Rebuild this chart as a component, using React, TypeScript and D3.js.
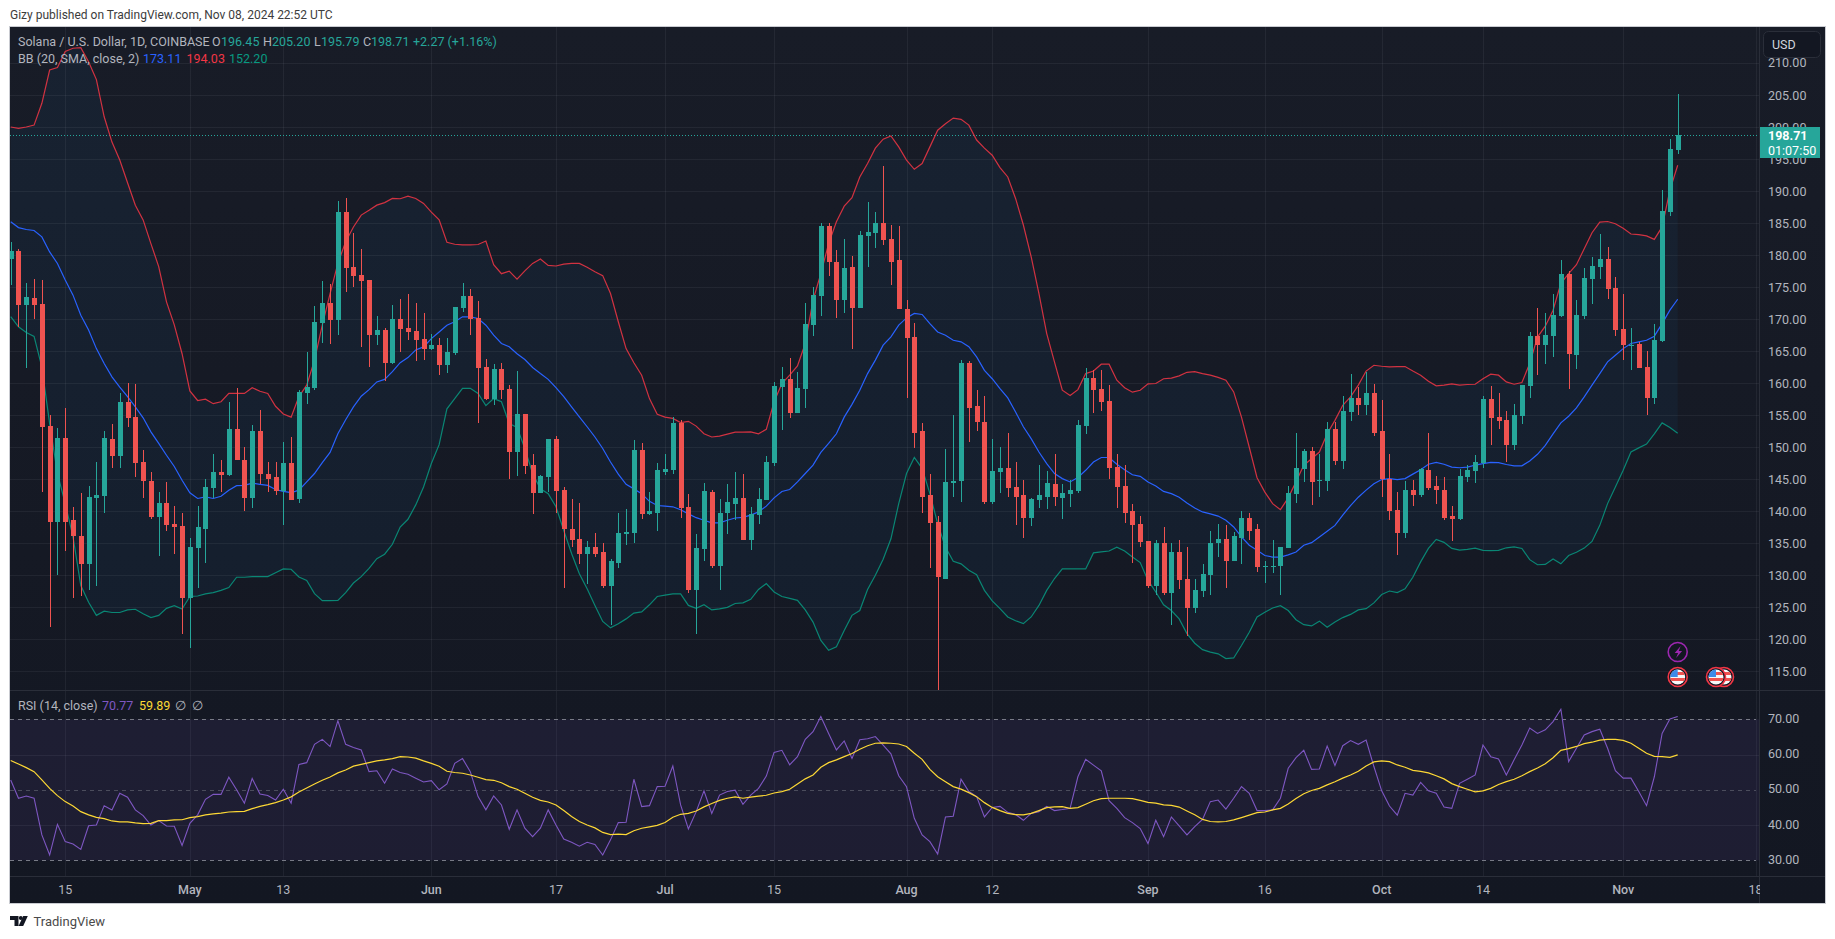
import React from "react";
import * as d3 from "d3";

// daily candles, Apr 8 2024 to Nov 8 2024
const opens = [
  179.4,180.6,172.2,173.3,172.3,153.3,138.4,151.4,138.6,136.2,
  131.8,142,142.4,151.3,148.6,157,154.7,147.7,144.8,139.1,
  141.25,138,137.7,126.4,134.2,137.3,143.6,146.1,145.6,152.8,
  148,142,152.5,145.9,145.3,143.1,147.5,141.9,158.4,159.2,
  169.4,172.5,169.8,186.7,178.1,176.9,176.1,167.5,168.3,163.1,
  170,168.6,168.1,166.9,165.3,165.9,162.8,164.7,171.7,173.6,
  170.2,162.5,157.5,162.2,159.1,149.2,155.2,147.2,142.8,145.3,
  151.25,143.3,137.3,135.6,133.3,134.5,133.6,128.4,132,136.4,
  136.6,149.5,139.5,139.8,146.2,146.4,153.75,140.6,127.7,134.1,
  143,131.4,139.7,141.2,142,135.5,139.4,141.7,147.5,159.4,
  160.6,155.3,159.05,169.05,173.6,184.5,179,173,178.1,171.7,
  183,183.4,185,182.5,179.2,171.6,167.2,152.5,142.5,138.3,
  129.5,144.4,144.7,163.1,156.4,154,141.4,146.1,146.7,143.75,
  142.5,138.9,141.7,142.2,144.2,142,142.65,143.1,153.3,160.8,
  159.1,157.2,146.9,143.9,140,138,135.3,128.3,135,127.3,
  133.6,129.4,124.84,127.5,130,135,135.6,132.2,135.9,139,
  137.2,131.4,131.45,131.4,134.2,142.65,146.55,149.4,144.7,144.7,
  152.8,147.8,155.5,157.65,156.6,158.4,152.5,145,140.15,136.6,
  143.3,142.5,146.4,143.9,143.4,139.2,138.75,145.3,146.25,147.5,
  157.5,154.7,154.2,150.3,154.84,159.5,167.34,165.94,167.34,170.46,
  177,164.4,170.46,176.25,178.1,179.4,174.84,168.4,165.9,166.1,
  162.5,157.65,166.56,186.7,196.45,
];
const highs = [
  182,180.9,175.6,176.3,176.1,155,153,156.2,140.6,142.8,
  143.9,147.7,152.5,153.6,158.4,160,159.8,149.5,146.1,143,
  144.5,140.9,139.7,135.8,140.9,145,149,148,157,159.2,
  150,153.4,155.8,147.7,147.7,150.8,151.6,158.9,164.8,172,
  176,175.5,188.4,188.9,183.4,180.9,176.1,170.5,168.6,172.2,
  173.1,173.9,172.5,171,167.7,167.1,167.1,171.9,175.6,174.7,
  172.8,163.75,163,163.1,159.7,161.9,155.2,148.9,145.6,151.25,
  151.7,143.75,141.9,141.25,135.3,136.6,135,132.5,139.8,140.3,
  151.1,150.6,143,147.5,149,154.8,154.2,142.7,136.4,144.4,
  143.4,141.9,144.2,146.2,145.9,140.6,143.6,148.6,160.2,162.6,
  163.9,161.7,172.6,175,185,185,180.8,182.5,179.8,183.75,
  188.3,186.7,193.9,184.7,184.5,173,169.4,153.75,145.9,139.2,
  149.7,155,163.7,163.5,158.9,158,151.25,150,152.2,147.65,
  144.84,142,147.2,146.25,148.9,144.2,144.84,154.2,162.3,162,
  162,159.7,148.9,147.3,141.1,139.2,135.3,135.5,137.5,135,
  135.5,134.4,129.5,131.7,137,138,137.8,136.7,140,139.8,
  138,132.3,135.5,134.4,144,152.3,149.8,150,149,153.9,
  153.9,158,161.4,159.4,161.7,159.8,157.3,149,143,144.7,
  144.84,146.7,152.3,145.5,145.3,140.8,146.55,147.3,148.75,158,
  159.5,158.4,155.6,156.7,159.7,167.96,171.7,170.9,174,179.2,
  177.5,173,178,179.7,183.3,181.25,176.6,173.9,168.6,166.4,
  165,169.3,190.2,198.1,205.2,
];
const lows = [
  175.3,168.8,162.4,170.1,143,121.9,130,133.75,126.5,126.7,
  127.7,128.4,139.7,146.7,146.7,153.1,145.3,142,138.75,133,
  137,133.3,120.9,118.6,128.1,132,142,143,145.5,148,
  140,140.5,144.2,143,142.5,137.8,141.7,141.25,156.7,159,
  166.2,166.1,167.6,174.2,175,165.7,162.5,165.9,160.3,163,
  164.9,166.7,163.5,163.6,165.2,161.3,161.6,164.4,171.1,167.6,
  153.75,157.3,156.6,157.5,145,145.5,145.9,139.5,142.8,143,
  139.7,128,134.4,131.7,128.6,132.8,128,122.2,131.1,134.7,
  135,138.75,139.4,136.9,145.6,145.9,138.9,127.2,120.9,132.3,
  131.1,127.7,136.4,138.6,135.5,133.9,138,141.7,147,152.65,
  154.5,155.3,156.1,167.3,170.5,176.7,170.15,170.9,165.3,171.7,
  178.1,181.1,181.6,175.3,171.6,157.65,149.85,139.7,131.1,112,
  129.4,142.3,141.4,150.8,152.5,141.2,141.2,142.8,142.3,137.8,
  135.9,137.65,140.5,140.3,140.9,138.75,140.6,142.8,152,155.3,
  155.6,145,140.5,138.1,132,134.5,128,127,126.9,122.3,
  127.8,120.6,124.05,126.6,127,132.8,128.1,132.2,131.7,135.5,
  130.5,128.75,130.3,127,134.2,141.25,144.5,141,142.2,143.1,
  147.2,146.6,154.05,155,155,151.7,142.2,138.6,133.1,135.9,
  140.9,142.3,143.4,141.1,138.6,135.3,138.6,144.5,144.4,146.7,
  150.3,152.8,147.65,149.5,153.6,157.65,161.25,163,164.06,170.3,
  159.06,162.2,170,172.3,176.25,173.1,167.3,163.6,162,162.3,
  155,156.7,166.4,186.1,195.79,
];
const closes = [
  180.6,172.2,173.4,172.2,153.2,138.3,151.4,138.4,136.1,131.8,
  142.2,142.5,151.4,148.6,157,154.5,147.5,144.7,139.1,141.25,
  137.8,137.5,126.4,134.4,137.5,143.75,146.1,145.6,152.8,148,
  142,152.5,145.8,145.1,143.1,147.5,141.7,158.6,159.4,169.6,
  172.5,169.8,186.7,178,176.7,175.9,167.5,168.3,163.1,170,
  168.4,168,166.7,165.3,165.9,162.8,164.8,171.9,173.6,170,
  162.3,157.5,162.2,158.9,149.2,155.2,147,142.8,145.5,151.25,
  143.1,137.2,135.5,133.3,134.5,133.4,128.4,132.2,136.6,136.7,
  149.5,139.5,140,146.4,146.6,153.75,140.5,127.7,134.2,143.1,
  131.4,139.7,141.4,142,135.5,139.5,141.9,147.65,159.5,160.6,
  155.3,159.2,169.2,173.75,184.5,178.9,173,178,171.7,183.1,
  183.6,185,182.3,179,171.6,167,152.3,142.3,138.1,129.7,
  144.5,144.7,163.1,156.1,153.9,141.4,146.25,146.7,143.6,142.3,
  138.9,141.9,142.5,144.4,142.2,142.8,143.3,153.4,160.8,158.9,
  157,146.7,143.75,139.8,137.8,135.15,128.3,135,127.3,133.6,
  129.2,124.84,127.65,130.15,135,135.6,132.2,136.1,139,137,
  131.25,131.5,131.5,134.4,142.8,146.7,149.4,144.5,144.85,152.8,
  147.8,155.6,157.65,156.6,158.4,152.3,145,140,136.6,143.3,
  142.5,146.55,143.6,143.3,139,138.75,145.5,146.4,147.65,157.5,
  154.5,154.05,150.3,155,159.7,167.34,165.94,167.5,170.6,177,
  164.5,170.6,176.4,178.3,179.4,174.7,168.3,165.94,166,162.34,
  157.65,166.7,186.87,196.56,198.71,
];

// bollinger bands
const bbUpper = [
  200,199.8,200,200.3,203.7,208.9,209.3,211.8,212.3,212.4,
  210.2,207.4,201.6,197.65,194.84,191.3,187.8,185.5,181.8,178.2,
  172.7,169.1,164.6,158.8,157.3,157.5,156.8,157.1,158.4,158.4,
  158.4,159.3,158.75,158.4,156.4,155.2,154.7,157.9,159.7,163.6,
  169.06,174,178.7,182.1,184.4,186.25,187,187.8,188.2,188.85,
  188.8,189.2,188.85,188.07,186.7,185.5,182,181.7,181.6,181.6,
  181.66,182.2,178.5,177.1,177.5,176.25,177.55,178.7,179.4,178.4,
  178.3,178.6,178.7,178.7,178.1,177.4,176.8,174,169.6,165.4,
  163.2,161.25,157.6,155.15,154.7,154.5,153.85,154.05,153.3,152.1,
  151.6,151.75,152.05,152.35,152.35,152.4,152.1,152.8,157.1,159.95,
  161.25,162.7,166.2,172.97,177.1,181.8,185.2,187.65,188.96,192.2,
  194.3,196.7,198.1,198.6,196.9,194.84,193.4,194.3,196.9,199.5,
  200.5,201.4,201.2,200.3,197.97,196.7,195.6,193.65,192.2,188.85,
  184.7,179.75,174,167.75,163.3,158.9,158.07,159,161.5,161.9,
  162.97,162.97,160.46,159.3,158.6,158.9,159.9,159.95,160.7,160.8,
  161.15,161.7,161.8,161.5,161.25,160.9,160.46,158.64,154.7,150,
  145.25,143,141.2,140.25,142.1,144.6,147.2,148.2,149.25,152.1,
  154.2,156.55,157.86,159.7,161.9,162.8,162.65,162.55,162.6,162.6,
  161.9,161.25,160.3,159.6,159.7,159.9,159.7,159.8,159.84,160.7,
  161.4,161.25,160.2,159.84,160.1,163.07,167.2,168.9,171.4,175.6,
  177.1,178.5,181,183.5,185.15,185.25,184.9,184.2,183.3,183.2,
  183,182.45,184.4,190.15,194.03,
];
const bbBasis = [
  185.2,184.3,184,183.85,182.85,180.5,178.7,176.1,173.75,170.6,
  168.3,165.4,163.07,161,159.4,157.9,156.3,154.6,152.4,150.6,
  148.75,147,144.84,142.9,142,142.25,142,142.35,143.3,144,
  144.05,144.4,144.2,144.05,143.4,143.1,142.9,143.3,144.6,145.9,
  147.6,149.2,152.1,154.3,156.3,157.97,159,160.2,160.6,161.8,
  163.2,164,165.2,165.67,166.97,168,169.06,169.6,170.36,170.36,
  170.1,169.06,167.5,166.2,165.7,164.6,163.7,162.45,161.5,160.6,
  159.3,157.9,156.3,154.75,153.2,151.6,149.8,147.7,145.8,144.2,
  143.5,142.75,141.55,140.9,140.8,140.7,140.25,139.6,139,138.6,
  138.2,138.2,138.6,138.95,139.05,139.4,139.9,140.8,142.1,143.1,
  143.4,144.6,145.9,147.2,149.2,150.6,152.1,154.7,156.7,158.9,
  161.5,163.6,165.94,167.24,169.06,170.2,170.9,170.73,169.3,168,
  167.5,166.7,166.46,165.7,164.1,162,160.7,159.16,157.7,155.5,
  153.2,151.35,149.25,147.45,145.9,145.1,144.58,145.26,146.4,147.7,
  148.4,148.4,147.34,146.5,145.7,145.46,144.58,143.95,143.1,142.75,
  142.2,141.3,140.5,139.9,139.6,139.25,138.6,137.55,136,134.7,
  133.9,133.1,132.85,132.85,133.2,133.64,134.7,135.1,136,136.9,
  137.8,139.4,140.9,142.2,143.3,144.3,144.95,145.1,144.95,145.1,
  145.8,146.5,147.34,147.65,147.34,146.9,146.8,146.9,147.2,147.44,
  147.65,147.6,147.3,147.1,147.1,147.86,148.9,150.3,152.1,153.8,
  154.84,156.14,157.86,159.7,161.5,163.33,164.37,165.4,166.2,166.45,
  166.7,167.34,169.3,171.4,173.11,
];
const bbLower = [
  170.4,168.8,167.9,167.3,162.5,153.7,145.9,141.2,136,128.4,
  125.8,123.75,124.4,124.2,124.2,124.6,124.7,124,123.4,123.75,
  124.84,125.25,124.75,126.7,126.77,127.1,127.3,127.65,128.1,129.7,
  129.7,129.8,129.8,129.8,130.4,131,130.95,129.75,129.2,127.15,
  126.05,126.05,126.1,127.3,128.8,129.8,131.1,132.6,133.3,134.85,
  137.55,138.75,141,143.8,147.45,150.4,156,157.6,159.2,159.2,
  158.4,156.5,157.6,157.1,153.7,153.1,149.8,145.9,143.5,142.75,
  140.7,137,133.4,130.25,127.9,125.3,122.8,121.8,122.45,123.2,
  124.1,124.3,125.4,126.7,126.9,127.1,127.1,125.3,124.84,125.4,
  124.6,124.75,125,125.6,125.7,126.25,127.8,128.7,127.4,126.7,
  126.4,126.1,124.6,122.7,119.84,118.3,118.85,121.4,123.75,124.5,
  127.8,130,132.5,135.7,141.2,145.9,148.4,146.7,142.75,138.07,
  134.4,132.2,131.8,130.8,130.1,127.65,126,124.8,123.5,122.9,
  122.45,123.5,125.3,127.65,129.5,131,131,131,131,133.5,
  133.65,133.8,134.4,133.8,132.85,132,129.2,127.4,125.4,124.5,
  123.2,120.9,119.4,118.4,118,117.75,117,117.1,119.05,121.1,
  123.5,124.25,124.9,125.25,124.5,123.07,122.3,122.1,122.85,121.9,
  122.7,123.4,123.9,124.6,124.8,125.7,127,127.55,127.3,127.9,
  129.7,132.1,134.2,135.6,135.15,134.2,133.95,134.05,134.25,133.9,
  133.85,133.9,134.3,134.45,134.2,132.45,131.65,131.7,132.55,131.8,
  133.1,133.6,134.25,135.3,137.8,141.2,143.8,146.4,149.25,149.9,
  150.5,152.1,153.8,153.07,152.2,
];

// rsi pane
const rsi = [
  52.8,47.6,48.25,47.6,37.2,31.5,40.2,35.3,34.6,33.1,
  39.8,40,45.5,44.3,49,47.9,44.3,42.7,40,41.25,
  39.75,39.65,34.2,40.5,42.9,47.3,48.7,48.7,53.55,50,
  46.2,53.2,48.8,48.4,47.1,50.15,46.2,57.2,57.7,62.9,
  64.3,62.25,69.6,62.9,62,61.3,55.15,55.4,51.85,55.9,
  54.9,54.4,53.3,52.2,52.6,50,51.65,57.5,58.85,55.15,
  48.06,44.3,48.25,45.7,38.8,44.3,39.1,36.7,39.1,44.3,
  40,36.05,35.1,34,35.1,34.5,31.5,35.8,40.7,40.8,
  53,45.25,45.5,50.9,51,56.76,45.7,38.9,43.8,49.7,
  43.3,48.5,49.5,49.9,45.9,48.5,50.4,53.9,60.6,61.2,
  57.1,59.4,64.3,66.5,70.76,66,61.3,63.85,58.9,64.2,
  64.5,65.1,62.7,60.2,54,50.9,41.9,37.2,35.3,31.8,
  42.3,42.5,53,49.5,48.06,42.3,45,45.3,43.6,43,
  41.35,43.3,43.8,45.3,44.1,44.4,44.75,53.7,58.65,57,
  55.4,46.9,44.75,42.1,40.7,39,34.75,41.35,36.7,42.3,
  39.75,37.2,39.55,41.6,46.65,47.1,44.5,47.6,50.9,49,
  44.1,44.1,44.3,47.6,56.1,59.1,61.2,55.8,55.9,62.4,
  56.9,62.5,63.95,62.9,64.1,56.6,49.7,45.4,42.8,49,
  48.5,52.1,49.7,49,45.1,44.75,51.85,53,54.2,62.7,
  59.4,58.75,54.2,58.5,62.7,67.5,66,67,69.35,72.84,
  58,61.8,65.56,66.5,67.2,61.8,55.4,53.3,53.3,49.5,
  45.5,53.7,66,70.1,70.77,
];
const rsiMa = [
  58.3,57.3,56.3,55.15,52.8,50.4,48.35,46.65,45.4,43.8,
  42.9,42.2,41.8,41.16,40.9,40.9,40.6,40.4,40.5,41.25,
  41.25,41.45,41.5,42.1,42.4,42.9,43.15,43.4,43.7,43.8,
  43.9,44.66,45.3,45.8,46.36,47.1,48,49.4,50.5,51.65,
  52.7,53.65,54.8,55.6,56.7,57.2,57.7,58.2,58.5,58.85,
  59.4,59.3,59,58.2,57.5,56.7,55.25,54.9,54.7,54.2,
  53.55,52.9,52.7,52,50.9,50.15,49,47.9,47,46.55,
  45.7,44.1,42.4,41,40,39.2,37.9,37.3,37.4,37.3,
  38.4,39.1,39.5,39.9,40.7,42.2,43.05,43.3,44,45.15,
  46.1,47,47.6,48,47.6,47.9,48.2,48.45,49.1,49.5,
  50.15,51.65,53.1,54.2,56.4,57.7,58.5,59.4,60.3,61.5,
  62.5,63.2,63.3,63.2,63,62.3,60.36,58.65,55.8,53.7,
  52.3,50.9,50.2,49.2,48.06,46.36,45,44.1,43.3,42.95,
  42.9,43.3,44.1,44.95,45.15,45.2,44.75,44.95,45.9,46.9,
  47.5,47.6,47.6,47.6,47.5,47,46.45,46.2,45.7,45.6,
  45.1,44,42.9,41.6,41,40.9,41,41.45,42.1,42.8,
  43.5,43.7,44.3,44.75,46,47.5,48.9,49.8,50.4,51.4,
  52.3,53.3,54.2,55.25,56.76,57.9,58.2,58,57.05,56.4,
  55.5,55.25,54.8,54,53.1,51.75,50.9,50.15,49.4,49.7,
  50.4,51.5,52.3,53,54,55.15,56.2,57.4,59.1,61.2,
  61.7,62.3,63.1,63.5,64.1,64.3,64.3,64,63.2,61.8,
  60.36,59.5,59.4,59.2,59.89,
];

// axis ticks
const priceTicks = [115,120,125,130,135,140,145,150,155,160,165,170,175,180,185,190,195,200,205,210];
const rsiTicks = [30,40,50,60,70];
const timeTicks = ["2024-04-15","2024-05-01","2024-05-13","2024-06-01","2024-06-17","2024-07-01","2024-07-15","2024-08-01","2024-08-12","2024-09-01","2024-09-16","2024-10-01","2024-10-14","2024-11-01","2024-11-18"];
const timeLabels = ["15","May","13","Jun","17","Jul","15","Aug","12","Sep","16","Oct","14","Nov","18"];

const lastPrice = 198.71;
const firstDay = new Date(Date.UTC(2024, 3, 8));
const dayAt = (i: number) => d3.utcDay.offset(firstDay, i);

// layout
const W = 1835, H = 939;
const left = 10, top = 27, axisX = 1760, right = 1825, paneY = 690, rsiBottom = 876, bottom = 903;

const x = d3.scaleUtc()
  .domain([firstDay, dayAt(214)])
  .range([10.7, 1677.7]);
const y = d3.scaleLinear().domain([115, 205]).range([671.4, 95]);
const yRsi = d3.scaleLinear().domain([30, 70]).range([860.3, 719.3]);

const font = "Roboto, sans-serif";
const UP = "#26a69a", DOWN = "#ef5350", LABEL = "#b2b5be";
const GRID = "rgba(240,243,250,0.06)";

const days = closes.map((_, i) => i);
const px = (i: number) => x(dayAt(i));

const priceLine = (values: number[]) =>
  d3.line<number>().x(i => px(i)).y(i => y(values[i]))(days) || "";
const rsiLine = (values: number[]) =>
  d3.line<number>().x(i => px(i)).y(i => yRsi(values[i]))(days) || "";
const bandArea = d3.area<number>()
  .x(i => px(i))
  .y0(i => y(bbLower[i]))
  .y1(i => y(bbUpper[i]))(days) || "";

function FlagIcon({ cx, cy }: { cx: number; cy: number }) {
  const id = `flag-${cx}`;
  return (
    <g>
      <clipPath id={id}><circle cx={cx} cy={cy} r={7.5} /></clipPath>
      <circle cx={cx} cy={cy} r={9.5} fill="#131722" stroke="#f23645" strokeWidth={1.6} />
      <g clipPath={`url(#${id})`}>
        <rect x={cx - 8} y={cy - 8} width={16} height={16} fill="#f7f7f7" />
        <rect x={cx - 8} y={cy - 5} width={16} height={3} fill="#f0524f" />
        <rect x={cx - 8} y={cy + 1} width={16} height={3} fill="#f0524f" />
        <rect x={cx - 8} y={cy - 8} width={8} height={8} fill="#3d8be8" />
      </g>
    </g>
  );
}

export default function App() {
  return (
    <svg width={W} height={H} style={{ position: "absolute", left: 0, top: 0, background: "#fff" }} fontFamily={font}>
      <defs>
        <linearGradient id="bg" x1="0" y1="0" x2="0" y2="1">
          <stop offset="0" stopColor="#181c27" />
          <stop offset="1" stopColor="#131722" />
        </linearGradient>
        <clipPath id="mainClip"><rect x={left} y={top} width={axisX - left} height={paneY - top} /></clipPath>
        <clipPath id="rsiClip"><rect x={left} y={paneY} width={axisX - left} height={rsiBottom - paneY} /></clipPath>
        <clipPath id="timeClip"><rect x={left} y={rsiBottom} width={axisX - left} height={bottom - rsiBottom} /></clipPath>
      </defs>

      <text x={10} y={19} fontSize={12} fill="#3c3c3c">Gizy published on TradingView.com, Nov 08, 2024 22:52 UTC</text>

      <rect x={9.5} y={26.5} width={right - 9} height={bottom - 26} fill="url(#bg)" stroke="#c9cbd1" />

      {/* grid */}
      {timeTicks.map(t => {
        const gx = Math.round(x(new Date(t))) + 0.5;
        return <line key={t} x1={gx} x2={gx} y1={top} y2={rsiBottom} stroke={GRID} />;
      })}
      {priceTicks.map(p => (
        <line key={p} x1={left} x2={axisX} y1={Math.round(y(p)) + 0.5} y2={Math.round(y(p)) + 0.5} stroke={GRID} />
      ))}

      {/* main pane */}
      <g clipPath="url(#mainClip)">
        <path d={bandArea} fill="rgba(33,150,243,0.05)" />
        <line x1={left} x2={axisX} y1={Math.round(y(lastPrice)) + 0.5} y2={Math.round(y(lastPrice)) + 0.5}
          stroke={UP} strokeDasharray="1 2" />
        <path d={priceLine(bbUpper)} fill="none" stroke="#f23645" strokeWidth={1.2} strokeOpacity={0.85} />
        <path d={priceLine(bbBasis)} fill="none" stroke="#2962ff" strokeWidth={1.2} />
        <path d={priceLine(bbLower)} fill="none" stroke="#089981" strokeWidth={1.2} strokeOpacity={0.85} />
        {days.map(i => {
          const color = closes[i] >= opens[i] ? UP : DOWN;
          const cx = Math.round(px(i));
          const bt = Math.round(y(Math.max(opens[i], closes[i])));
          const bb = Math.round(y(Math.min(opens[i], closes[i])));
          return (
            <g key={i} shapeRendering="crispEdges" fill={color}>
              <rect x={cx} y={y(highs[i])} width={1} height={y(lows[i]) - y(highs[i])} />
              <rect x={cx - 2} y={bt} width={5} height={Math.max(bb - bt, 1)} />
            </g>
          );
        })}
      </g>

      {/* event markers */}
      <circle cx={px(214)} cy={652} r={9.5} fill="#131722" stroke="#9c27b0" strokeWidth={1.6} />
      <path d={`M${px(214) + 3} ${646}l-6 7h3.4l-2 5 6-7h-3.4z`} fill="#9c27b0" />
      <FlagIcon cx={1724} cy={677} />
      <FlagIcon cx={1716} cy={677} />
      <FlagIcon cx={px(214)} cy={677} />

      {/* rsi pane */}
      <g clipPath="url(#rsiClip)">
        <rect x={left} y={yRsi(70)} width={axisX - left} height={yRsi(30) - yRsi(70)} fill="rgba(126,87,194,0.1)" />
        {[40, 60].map(v => (
          <line key={v} x1={left} x2={axisX} y1={Math.round(yRsi(v)) + 0.5} y2={Math.round(yRsi(v)) + 0.5} stroke={GRID} />
        ))}
        {[70, 50, 30].map(v => (
          <line key={v} x1={left} x2={axisX - 4} y1={Math.round(yRsi(v)) + 0.5} y2={Math.round(yRsi(v)) + 0.5}
            stroke="#787b86" strokeOpacity={v === 50 ? 0.5 : 1} strokeDasharray="4 4" />
        ))}
        <path d={rsiLine(rsi)} fill="none" stroke="#7e57c2" strokeWidth={1.1} />
        <path d={rsiLine(rsiMa)} fill="none" stroke="#fdd835" strokeWidth={1.2} />
      </g>

      {/* separators */}
      <line x1={left} x2={right} y1={paneY + 0.5} y2={paneY + 0.5} stroke="#2a2e39" strokeWidth={1} />
      <line x1={left} x2={right} y1={rsiBottom + 0.5} y2={rsiBottom + 0.5} stroke="#2a2e39" />
      <line x1={axisX - 0.5} x2={axisX - 0.5} y1={top} y2={bottom} stroke="#2a2e39" />

      {/* time axis */}
      <g clipPath="url(#timeClip)" fontSize={12.5} fill={LABEL} textAnchor="middle">
        {timeTicks.map((t, i) => (
          <text key={t} x={x(new Date(t))} y={894} fontWeight={isNaN(+timeLabels[i]) ? 500 : 400}>{timeLabels[i]}</text>
        ))}
      </g>

      {/* price axis */}
      <g fontSize={12.5} fill={LABEL}>
        {priceTicks.map(p => (
          <text key={p} x={1768} y={y(p) + 4.5}>{d3.format(".2f")(p)}</text>
        ))}
        {rsiTicks.map(v => (
          <text key={v} x={1768} y={yRsi(v) + 3.5}>{d3.format(".2f")(v)}</text>
        ))}
      </g>
      <rect x={1760} y={127} width={60} height={31} fill={UP} />
      <text x={1768} y={140} fontSize={12.5} fontWeight={700} fill="#fff">198.71</text>
      <text x={1768} y={155} fontSize={12.5} fill="#fff">01:07:50</text>
      <rect x={1763.5} y={31.5} width={57} height={26} rx={5} fill="#131722" stroke="#2a2e39" />
      <text x={1772} y={49} fontSize={12.5} fill="#d1d4dc">USD</text>

      {/* legends */}
      <g fontSize={12.5}>
        <text x={18} y={46} fill={LABEL}>Solana / U.S. Dollar, 1D, COINBASE</text>
        <text x={212} y={46} fill={LABEL}>O</text><text x={221} y={46} fill={UP}>196.45</text>
        <text x={263} y={46} fill={LABEL}>H</text><text x={272} y={46} fill={UP}>205.20</text>
        <text x={314} y={46} fill={LABEL}>L</text><text x={321} y={46} fill={UP}>195.79</text>
        <text x={363} y={46} fill={LABEL}>C</text><text x={371} y={46} fill={UP}>198.71</text>
        <text x={413} y={46} fill={UP}>+2.27 (+1.16%)</text>
        <text x={18} y={63} fill={LABEL}>BB (20, SMA, close, 2)</text>
        <text x={143} y={63} fill="#2962ff">173.11</text>
        <text x={186.5} y={63} fill="#f23645">194.03</text>
        <text x={229} y={63} fill="#089981">152.20</text>
        <text x={18} y={710} fill={LABEL}>RSI (14, close)</text>
        <text x={102} y={710} fill="#7e57c2">70.77</text>
        <text x={139} y={710} fill="#fdd835">59.89</text>
        <text x={175} y={710} fill={LABEL}>∅</text>
        <text x={192} y={710} fill={LABEL}>∅</text>
      </g>

      {/* footer logo */}
      <path d="M10 916h8.5v10h-4v-6H10zM27.8 916l-4.6 10h-4.6l4.6-10z" fill="#131722" />
      <circle cx={20.8} cy={918} r={2} fill="#131722" />
      <text x={33.5} y={926} fontSize={13} fill="#4a4a4a">TradingView</text>
    </svg>
  );
}
